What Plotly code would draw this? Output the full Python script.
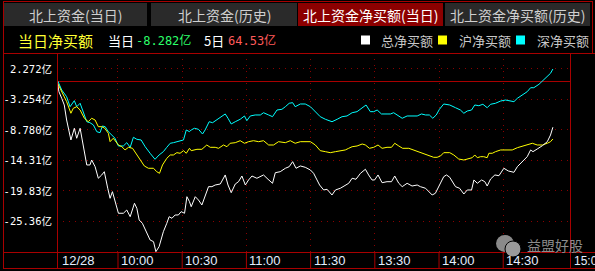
import plotly.graph_objects as go

# ---------------- data (minutes after 09:30, net buy in 亿) ----------------
total_t = [1.8, 2.4, 3.7, 4.9, 6.0, 8.0, 9.6, 10.7, 12.3, 13.8, 15.4, 16.9, 17.7, 19.3, 20.8, 22.4, 23.6, 25.2,
           26.3, 27.4, 29.0, 30.2, 32.5, 34.1, 35.7, 37.7, 38.8, 39.9, 41.4, 43.5, 45.0, 46.6, 47.7, 49.2, 51.2,
           52.8, 53.9, 55.2, 56.7, 58.2, 59.5, 61.1, 62.2, 63.4, 64.2, 66.1, 67.6, 69.2, 70.7, 72.3, 73.9, 75.4,
           77.8, 80.1, 81.4, 82.9, 84.8, 86.3, 87.9, 89.5, 91.0, 92.6, 94.9, 98.0, 100.1, 102.2, 103.5, 105.8,
           108.2, 110.0, 111.6, 113.2, 115.2, 117.5, 119.9, 121.4, 123.0, 124.2, 126.1, 127.7, 130.0, 131.6,
           133.9, 136.2, 137.8, 139.4, 141.2, 143.3, 145.6, 147.1, 148.7, 149.9, 151.5, 153.4, 155.7, 157.8,
           159.3, 161.2, 162.8, 165.1, 167.4, 169.8, 171.3, 173.7, 175.2, 176.8, 178.3, 180.2, 182.2, 183.5,
           185.0, 187.7, 189.6, 191.6, 193.2, 195.2, 196.3, 197.9, 199.9, 201.4, 202.5, 204.1, 206.1, 208.0,
           210.3, 212.4, 215.0, 216.6, 218.9, 221.2, 222.8, 223.9, 225.9, 228.3, 230.6, 232.1, 233.2]
total_v = [-0.32, -1.84, -3.04, -4.25, -6.97, -10.59, -8.47, -10.28, -8.47, -11.81, -15.12, -15.12, -14.22,
           -15.43, -17.53, -16.93, -16.34, -19.34, -21.16, -19.96, -22.06, -23.87, -23.87, -23.28, -24.49,
           -22.06, -22.97, -25.09, -25.69, -27.50, -28.71, -29.02, -30.83, -29.93, -27.21, -25.69, -24.49,
           -24.78, -24.18, -24.18, -23.58, -23.87, -20.87, -21.77, -22.68, -20.87, -21.47, -22.37, -20.87,
           -19.05, -19.05, -18.75, -18.57, -16.93, -18.75, -20.14, -18.57, -18.15, -17.12, -18.75, -17.84,
           -17.12, -17.53, -16.93, -17.71, -18.44, -16.52, -16.34, -15.72, -15.43, -14.52, -15.72, -15.30,
           -15.54, -16.03, -16.63, -17.84, -18.75, -19.65, -19.53, -20.56, -19.65, -19.34, -18.75, -18.44,
           -17.53, -17.71, -16.63, -15.90, -16.93, -17.84, -17.84, -16.93, -18.33, -18.15, -18.15, -17.12,
           -18.44, -19.05, -18.44, -18.93, -18.75, -19.05, -19.34, -19.96, -20.56, -20.25, -18.75, -17.24,
           -16.93, -17.35, -19.05, -19.34, -20.38, -19.65, -19.65, -17.84, -18.44, -17.84, -18.15, -18.93,
           -17.66, -16.93, -17.06, -15.72, -16.21, -16.45, -15.43, -14.52, -13.62, -12.40, -12.71, -12.22,
           -11.63, -10.90, -9.69, -8.28]

sh_t = [1.8, 3.7, 6.0, 8.0, 9.1, 10.7, 12.3, 14.3, 16.1, 17.7, 19.3, 20.8, 22.4, 23.8, 25.5, 26.3, 27.8, 30.2,
        31.8, 33.3, 34.9, 36.8, 38.8, 40.3, 42.3, 44.2, 46.6, 48.1, 49.4, 50.8, 52.8, 54.4, 55.9, 57.5, 59.0,
        60.6, 61.9, 63.4, 64.2, 66.9, 69.2, 71.5, 73.1, 75.4, 77.0, 79.3, 80.9, 82.4, 84.8, 87.1, 89.1, 91.0,
        93.3, 95.7, 98.0, 100.4, 102.7, 105.0, 108.2, 110.5, 112.8, 115.2, 117.5, 119.9, 122.2, 124.5, 126.9,
        129.2, 131.6, 133.9, 136.2, 137.8, 139.4, 141.7, 144.1, 145.6, 147.5, 149.5, 151.5, 153.4, 155.7,
        157.8, 159.3, 161.2, 163.0, 165.9, 168.2, 170.5, 172.9, 175.2, 177.5, 179.1, 180.7, 182.2, 185.0,
        186.9, 189.2, 191.6, 193.9, 195.5, 196.7, 197.9, 199.4, 200.9, 202.5, 203.3, 204.9, 206.4, 208.8,
        211.1, 214.2, 216.6, 219.7, 222.0, 223.6, 225.9, 228.3, 230.6, 232.1, 233.2]
sh_v = [-0.32, -1.84, -3.65, -5.75, -4.85, -4.56, -5.16, -6.66, -7.28, -6.66, -6.97, -8.18, -8.18, -8.47,
        -9.38, -10.90, -10.28, -11.50, -11.81, -12.40, -11.92, -12.10, -13.31, -14.22, -15.30, -15.72, -15.72,
        -16.34, -16.63, -15.12, -13.91, -13.31, -13.31, -12.89, -13.00, -12.53, -13.00, -12.10, -12.53, -12.28,
        -12.28, -11.50, -11.92, -11.92, -12.10, -11.50, -11.81, -11.19, -11.08, -10.72, -11.19, -10.90, -10.72,
        -10.90, -10.72, -11.50, -11.50, -10.90, -11.08, -10.72, -11.19, -10.90, -10.90, -10.90, -11.50, -12.53,
        -12.71, -12.89, -12.71, -12.53, -12.40, -12.10, -11.81, -11.68, -11.32, -11.50, -12.10, -11.92, -11.50,
        -12.10, -11.92, -11.92, -11.19, -11.68, -12.10, -12.10, -12.40, -12.71, -13.13, -13.31, -13.73, -13.73,
        -13.49, -12.89, -12.89, -13.31, -14.04, -14.22, -14.04, -13.80, -13.31, -13.80, -13.62, -13.62, -13.80,
        -13.00, -13.00, -12.71, -12.40, -12.40, -12.40, -11.99, -11.63, -11.37, -11.19, -11.50, -11.50, -11.19,
        -10.90, -10.41]

sz_t = [1.8, 3.7, 6.0, 7.6, 9.6, 10.7, 12.3, 13.8, 15.4, 16.9, 18.5, 20.1, 21.6, 22.7, 24.0, 25.5, 27.1, 28.6,
        30.2, 32.5, 34.1, 35.7, 37.2, 38.8, 40.8, 42.7, 45.0, 47.3, 49.2, 51.2, 52.8, 54.4, 55.9, 57.5, 59.0,
        60.6, 61.9, 63.4, 64.2, 65.7, 67.6, 69.5, 70.7, 72.6, 74.2, 76.2, 78.2, 80.1, 81.4, 82.9, 84.8, 87.1,
        89.1, 90.2, 91.8, 94.1, 96.5, 98.0, 100.4, 102.2, 104.3, 106.6, 108.2, 110.0, 111.6, 112.8, 115.2,
        117.5, 119.9, 122.2, 124.5, 126.9, 130.0, 132.4, 134.7, 137.0, 139.4, 141.7, 144.1, 145.9, 147.9,
        149.5, 151.1, 153.1, 155.7, 157.3, 158.8, 160.4, 162.8, 165.1, 167.4, 169.8, 171.8, 173.7, 175.5,
        177.1, 178.7, 180.2, 182.2, 185.0, 187.7, 190.0, 191.6, 193.2, 195.2, 196.7, 198.6, 200.5, 202.5,
        204.1, 206.4, 208.8, 211.1, 213.4, 215.0, 216.6, 219.0, 221.2, 222.8, 224.3, 226.7, 229.0, 231.1,
        232.1, 233.2]
sz_v = [0.15, -1.53, -2.75, -4.56, -3.47, -4.56, -3.94, -5.75, -7.28, -7.46, -7.87, -9.09, -9.27, -8.06, -8.18,
        -9.09, -9.69, -10.28, -11.68, -11.68, -11.08, -11.92, -10.10, -10.47, -10.59, -11.81, -13.00, -14.09,
        -13.31, -12.71, -11.92, -11.19, -11.08, -10.90, -10.72, -10.59, -8.78, -9.09, -8.78, -8.47, -8.66,
        -9.51, -8.78, -7.28, -7.46, -6.97, -6.37, -5.88, -6.66, -7.69, -7.28, -6.84, -6.24, -7.09, -6.24,
        -6.06, -6.06, -5.65, -6.06, -6.37, -5.16, -5.03, -4.56, -3.94, -3.83, -4.56, -4.07, -4.07, -4.56,
        -5.40, -6.37, -6.84, -7.28, -6.84, -6.37, -6.24, -5.65, -5.46, -4.67, -4.25, -5.46, -5.46, -5.16,
        -5.88, -5.88, -5.88, -5.65, -6.06, -6.66, -6.24, -6.24, -6.24, -5.88, -6.06, -6.06, -6.66, -6.06,
        -5.03, -4.07, -4.25, -4.74, -5.16, -5.75, -5.34, -5.16, -4.25, -4.38, -4.12, -4.74, -4.12, -3.94,
        -3.53, -3.35, -3.53, -3.65, -3.04, -2.44, -1.84, -1.12, -1.12, -0.50, 0.28, 1.06, 1.49, 2.27]

y_ticks = [2.272, -3.254, -8.780, -14.31, -19.83, -25.36]
y_labels = ["2.272亿", "-3.254亿", "-8.780亿", "-14.31亿", "-19.83亿", "-25.36亿"]
time_ticks = [30, 60, 90, 120, 150, 180, 210]
time_labels = ["10:00", "10:30", "11:00", "11:30", "13:30", "14:00", "14:30"]
date_label = "12/28"
end_label = "15:00"

tabs = ["北上资金(当日)", "北上资金(历史)", "北上资金净买额(当日)", "北上资金净买额(历史)"]
active_tab = 2
series_names = ["总净买额", "沪净买额", "深净买额"]
series_colors = ["#ffffff", "#ffff00", "#00ffff"]
title_text = "当日净买额"
today_label, today_val = "当日", "-8.282亿"
five_label, five_day_val = "5日", "64.53亿"

# ---------------- layout helpers (pixel -> paper) ----------------
W, H = 595, 271
L, R, T, B = 57, 25, 53, 19
PW, PH = W - L - R, H - T - B


def PX(x):
    return (x - L) / PW


def PY(y):
    return (H - B - y) / PH


RED = "#a80000"
GRID = "#8a0000"
CJK = "Noto Sans CJK SC"
MONO = "DejaVu Sans Mono, Noto Sans CJK SC"

fig = go.Figure()
for t, v, name, col in [(total_t, total_v, series_names[0], series_colors[0]),
                        (sh_t, sh_v, series_names[1], series_colors[1]),
                        (sz_t, sz_v, series_names[2], series_colors[2])][::-1]:
    fig.add_trace(go.Scatter(x=t, y=v, mode="lines", name=name,
                             line=dict(color=col, width=1), hoverinfo="skip"))

shapes = []
annotations = []


def text(x, y, s, size, color, family=CJK, anchor="left", xref="paper", xshift=0):
    annotations.append(dict(xref=xref, yref="paper", x=x if xref != "paper" else PX(x), y=PY(y), text=s,
                            showarrow=False, xanchor=anchor, yanchor="middle", xshift=xshift,
                            font=dict(family=family, size=size, color=color)))


# tabs
tab_x = [(4, 147), (151, 297), (298, 443), (445, 590)]
for i, (txt, (x0, x1)) in enumerate(zip(tabs, tab_x)):
    shapes.append(dict(type="rect", xref="paper", yref="paper", x0=PX(x0), x1=PX(x1), y0=PY(26), y1=PY(3),
                       fillcolor="#8c0000" if i == active_tab else "#2a2a2a", line=dict(width=0), layer="below"))
    text((x0 + x1) / 2, 14.5, txt, 14, "#ffffff" if i == active_tab else "#cfcfcf", anchor="center")


# frame lines
def hline(y, x0, x1, color=RED):
    shapes.append(dict(type="line", xref="paper", yref="paper", x0=PX(x0), x1=PX(x1), y0=PY(y), y1=PY(y),
                       line=dict(color=color, width=1)))


def vline(x, y0, y1, color=RED):
    shapes.append(dict(type="line", xref="paper", yref="paper", x0=PX(x), x1=PX(x), y0=PY(y0), y1=PY(y1),
                       line=dict(color=color, width=1)))


hline(1.5, 3, 593)
hline(53.5, 3, 595)
hline(252.5, 3, 595)
hline(268.5, 3, 595)
vline(3.5, 1, 269)
vline(592.5, 1, 54)
vline(57.5, 53, 269)
vline(570.5, 53, 269)

# time separators in label strip
for tv in time_ticks:
    shapes.append(dict(type="line", xref="x", yref="paper", x0=tv, x1=tv, y0=PY(252), y1=PY(268.5),
                       line=dict(color=RED, width=1)))

# x labels
XL = "#e4eeff"
text(60, 260.5, date_label, 13, XL, family="Liberation Sans")
for tv, tl in zip(time_ticks, time_labels):
    text(tv, 260.5, tl, 13, XL, family="Liberation Sans", xref="x", xshift=1)
text(572, 260.5, end_label, 12, XL, family="Liberation Sans")

# second row texts
text(16, 40, title_text, 15, "#ffff33")
text(106, 40, today_label, 13, "#ffffff")
text(134, 40, today_val, 12, "#2cff6a", family=MONO)
text(202, 40, five_label, 13, "#ffffff")
text(226, 40, five_day_val, 12, "#ff5a5a", family=MONO)

# legend
leg = [(361, 380), (438, 458), (516, 536)]
for (sx, tx), name, col in zip(leg, series_names, series_colors):
    shapes.append(dict(type="rect", xref="paper", yref="paper", x0=PX(sx), x1=PX(sx + 9), y0=PY(44.5), y1=PY(35.5),
                       fillcolor=col, line=dict(width=0)))
    text(tx - 1, 40.5, name, 13, "#c8c8c8")

# watermark
shapes.append(dict(type="circle", xref="paper", yref="paper", x0=PX(496), x1=PX(514), y0=PY(252), y1=PY(235),
                   fillcolor="#8a8a8a", line=dict(width=0)))
shapes.append(dict(type="circle", xref="paper", yref="paper", x0=PX(505), x1=PX(521), y0=PY(257), y1=PY(241),
                   fillcolor="#9a9a9a", line=dict(color="#000000", width=1)))
text(525, 245, "益盟好股", 14, "#8c8c8c")

fig.update_layout(
    width=W, height=H, margin=dict(l=L, r=R, t=T, b=B, pad=0, autoexpand=False),
    paper_bgcolor="#000000", plot_bgcolor="#000000", showlegend=False,
    shapes=shapes, annotations=annotations,
    xaxis=dict(range=[1.5, 241.2], tickvals=time_ticks, showticklabels=False, ticks="",
               showgrid=True, gridcolor=GRID, griddash="1px,5px", gridwidth=1, automargin=False,
               zeroline=False, showline=False, fixedrange=True),
    yaxis=dict(range=[-30.89, 5.17], tickvals=y_ticks, ticktext=y_labels, ticks="", automargin=False,
               tickfont=dict(family=MONO, size=10.5, color="#ffffff"), ticklabelstandoff=4,
               showgrid=True, gridcolor=GRID, griddash="1px,5px", gridwidth=1,
               zeroline=True, zerolinecolor=RED, zerolinewidth=1, showline=False, fixedrange=True),
)

fig.write_html("out.html", config={"displayModeBar": False})
